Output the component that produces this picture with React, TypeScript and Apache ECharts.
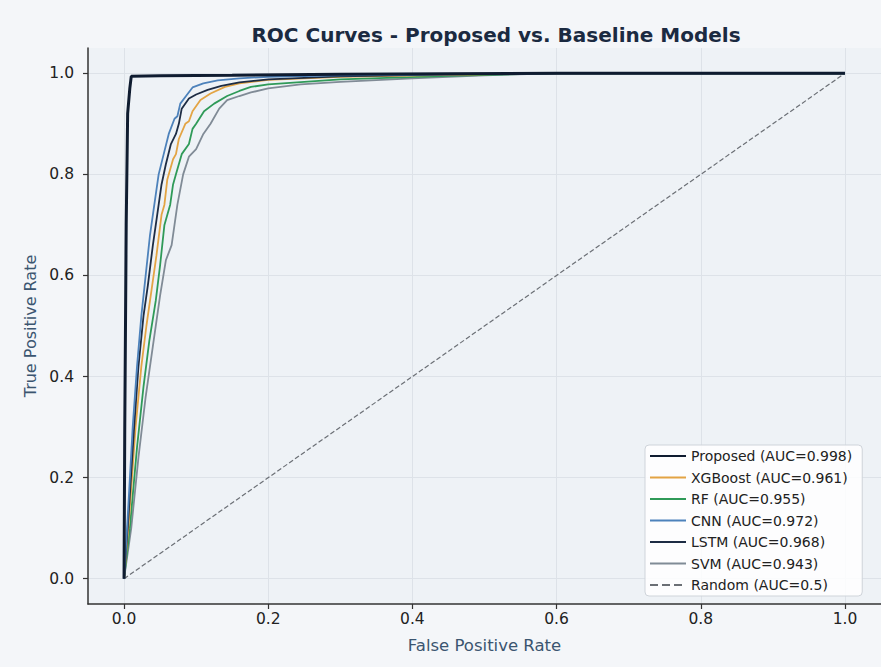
import React, { useEffect, useRef } from "react";
import * as echarts from "echarts";

const xTicks = [0, 0.2, 0.4, 0.6, 0.8, 1.0];
const yTicks = [0, 0.2, 0.4, 0.6, 0.8, 1.0];

const proposedFpr = [0, 0.001, 0.003, 0.005, 0.008, 0.01, 0.05, 0.15, 0.3, 0.45, 0.6, 1.0];
const proposedTpr = [0, 0.3, 0.7, 0.92, 0.97, 0.994, 0.995, 0.996, 0.998, 0.999, 1.0, 1.0];

const xgbFpr = [0, 0.007, 0.016, 0.024, 0.031, 0.038, 0.045, 0.052, 0.056, 0.06, 0.068, 0.072, 0.076, 0.085, 0.09, 0.095, 0.106, 0.12, 0.14, 0.16, 0.2, 0.3, 0.45, 0.6, 1.0];
const xgbTpr = [0, 0.12, 0.3, 0.42, 0.5, 0.57, 0.64, 0.72, 0.74, 0.79, 0.83, 0.84, 0.87, 0.9, 0.905, 0.925, 0.947, 0.96, 0.973, 0.98, 0.987, 0.993, 0.997, 1.0, 1.0];

const rfFpr = [0, 0.008, 0.018, 0.027, 0.035, 0.044, 0.05, 0.056, 0.064, 0.068, 0.072, 0.08, 0.09, 0.095, 0.1, 0.111, 0.125, 0.143, 0.16, 0.176, 0.2, 0.3, 0.45, 0.6, 1.0];
const rfTpr = [0, 0.1, 0.26, 0.38, 0.47, 0.55, 0.62, 0.7, 0.74, 0.78, 0.8, 0.84, 0.86, 0.89, 0.9, 0.925, 0.94, 0.955, 0.965, 0.973, 0.978, 0.988, 0.995, 1.0, 1.0];

const cnnFpr = [0, 0.005, 0.012, 0.018, 0.024, 0.03, 0.036, 0.042, 0.048, 0.055, 0.062, 0.07, 0.074, 0.078, 0.086, 0.095, 0.11, 0.13, 0.16, 0.2, 0.3, 0.45, 0.6, 1.0];
const cnnTpr = [0, 0.12, 0.3, 0.42, 0.52, 0.6, 0.68, 0.74, 0.8, 0.84, 0.88, 0.91, 0.915, 0.94, 0.955, 0.972, 0.98, 0.986, 0.99, 0.993, 0.996, 0.998, 1.0, 1.0];

const lstmFpr = [0, 0.006, 0.014, 0.02, 0.027, 0.033, 0.04, 0.046, 0.052, 0.058, 0.065, 0.072, 0.076, 0.08, 0.09, 0.1, 0.116, 0.135, 0.16, 0.2, 0.3, 0.45, 0.6, 1.0];
const lstmTpr = [0, 0.12, 0.3, 0.42, 0.52, 0.58, 0.66, 0.72, 0.78, 0.82, 0.86, 0.88, 0.9, 0.93, 0.95, 0.958, 0.967, 0.975, 0.982, 0.988, 0.994, 0.998, 1.0, 1.0];

const svmFpr = [0, 0.01, 0.02, 0.03, 0.04, 0.05, 0.058, 0.066, 0.07, 0.074, 0.082, 0.09, 0.1, 0.11, 0.12, 0.132, 0.143, 0.16, 0.176, 0.2, 0.245, 0.3, 0.4, 0.5, 0.6, 1.0];
const svmTpr = [0, 0.1, 0.24, 0.36, 0.46, 0.56, 0.63, 0.66, 0.7, 0.74, 0.8, 0.835, 0.85, 0.88, 0.9, 0.93, 0.947, 0.955, 0.962, 0.97, 0.978, 0.983, 0.99, 0.996, 1.0, 1.0];

const randomFpr = [0, 1];
const randomTpr = [0, 1];

const seriesNames = [
  "Proposed (AUC=0.998)",
  "XGBoost (AUC=0.961)",
  "RF (AUC=0.955)",
  "CNN (AUC=0.972)",
  "LSTM (AUC=0.968)",
  "SVM (AUC=0.943)",
  "Random (AUC=0.5)",
];

const pairs = (f: number[], t: number[]) => f.map((v, i) => [v, t[i]]);

export default function App() {
  const ref = useRef<HTMLDivElement>(null);
  useEffect(() => {
    if (!ref.current) return;
    const chart = echarts.init(ref.current, null, { renderer: "svg" });
    const styles = [
      { color: "#0f1c30", width: 3, z: 10, type: "solid" },
      { color: "#e3a444", width: 1.8, z: 4, type: "solid" },
      { color: "#2f9a58", width: 1.8, z: 3, type: "solid" },
      { color: "#4d82bb", width: 1.8, z: 6, type: "solid" },
      { color: "#1d2c44", width: 1.8, z: 5, type: "solid" },
      { color: "#808b96", width: 1.8, z: 2, type: "solid" },
      { color: "#6b6f75", width: 1.2, z: 1, type: "dashed" },
    ];
    const datas = [
      pairs(proposedFpr, proposedTpr),
      pairs(xgbFpr, xgbTpr),
      pairs(rfFpr, rfTpr),
      pairs(cnnFpr, cnnTpr),
      pairs(lstmFpr, lstmTpr),
      pairs(svmFpr, svmTpr),
      pairs(randomFpr, randomTpr),
    ];
    const series: any[] = datas.map((d, i) => ({
      name: seriesNames[i],
      type: "line",
      data: d,
      symbol: "none",
      showSymbol: false,
      z: styles[i].z,
      lineStyle: { color: styles[i].color, width: styles[i].width, type: styles[i].type },
      itemStyle: { color: styles[i].color },
      emphasis: { disabled: true },
    }));
    chart.setOption({
      animation: false,
      backgroundColor: "#f4f6f9",
      title: {
        text: "ROC Curves - Proposed vs. Baseline Models",
        left: 491,
        textAlign: "center",
        top: 20,
        textStyle: { fontFamily: "DejaVu Sans", fontWeight: "bold", fontSize: 20, color: "#1b2a41" },
      },
      grid: {
        left: 88,
        right: 0,
        top: 48,
        bottom: 63,
        show: true,
        backgroundColor: "#eef2f6",
        borderWidth: 0,
      },
      legend: {
        orient: "vertical",
        left: 645,
        top: 445,
        padding: [4, 10, 4, 4],
        itemWidth: 36,
        itemHeight: 14,
        itemGap: 7.5,
        itemStyle: { opacity: 0 },
        backgroundColor: "rgba(255,255,255,0.85)",
        borderColor: "#cfd4da",
        borderWidth: 1,
        borderRadius: 4,
        data: seriesNames,
        textStyle: { fontFamily: "DejaVu Sans", fontSize: 14, color: "#222" },
      },
      xAxis: {
        type: "value",
        min: -0.05,
        max: 1.05,
        name: "False Positive Rate",
        nameLocation: "middle",
        nameGap: 33,
        nameTextStyle: { fontFamily: "DejaVu Sans", fontSize: 16.5, color: "#3b5570" },
        axisLine: { show: true, onZero: false, lineStyle: { color: "#333", width: 1.5 } },
        axisTick: { show: true, length: 5, customValues: xTicks, lineStyle: { color: "#333", width: 1.2 } },
        axisLabel: {
          customValues: xTicks,
          margin: 7,
          fontFamily: "DejaVu Sans",
          fontSize: 15.5,
          color: "#222",
          formatter: (v: number) => v.toFixed(1),
        },
        splitLine: { show: true, lineStyle: { color: "#dde2e8", width: 1 } },
      },
      yAxis: {
        type: "value",
        min: -0.05,
        max: 1.05,
        name: "True Positive Rate",
        nameLocation: "middle",
        nameGap: 50,
        nameTextStyle: { fontFamily: "DejaVu Sans", fontSize: 16, color: "#3b5570" },
        axisLine: { show: true, onZero: false, lineStyle: { color: "#333", width: 1.5 } },
        axisTick: { show: true, length: 5, customValues: yTicks, lineStyle: { color: "#333", width: 1.2 } },
        axisLabel: {
          customValues: yTicks,
          margin: 14,
          fontFamily: "DejaVu Sans",
          fontSize: 15.5,
          color: "#222",
          formatter: (v: number) => v.toFixed(1),
        },
        splitLine: { show: true, lineStyle: { color: "#dde2e8", width: 1 } },
      },
      series,
    });
    return () => chart.dispose();
  }, []);
  return <div ref={ref} style={{ position: "fixed", left: 0, top: 0, width: 881, height: 667 }} />;
}
